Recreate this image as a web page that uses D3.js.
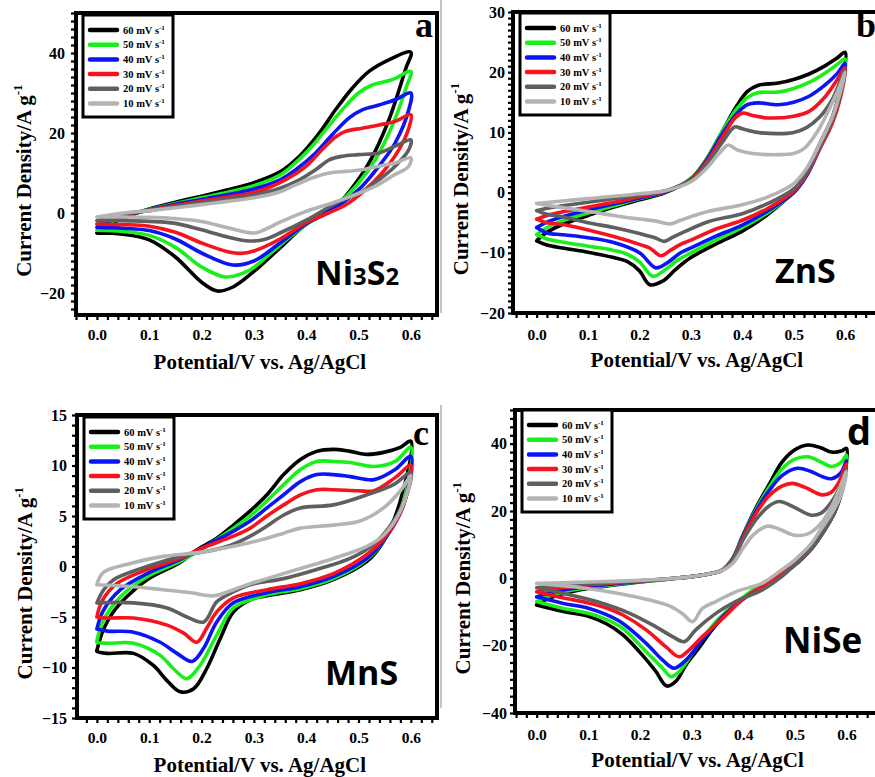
<!DOCTYPE html>
<html>
<head>
<meta charset="utf-8">
<script src="https://cdn.jsdelivr.net/npm/d3@7"></script>
<style>
  body { margin: 0; background: #fff; }
  svg { display: block; }
  .tick text { font-family: "Liberation Serif", "Times New Roman", serif; font-weight: bold; }
</style>
</head>
<body>
<div id="chart"></div>
<script>
// scan rates, top to bottom in the legends
const scanRates = ['60', '50', '40', '30', '20', '10'];
const rateColors = ['#000000', '#19f019', '#0a14f5', '#f5141e', '#5f5f5f', '#b4b4b4'];

const xTicks = [0, 0.1, 0.2, 0.3, 0.4, 0.5, 0.6];
const yTicksA = [-20, 0, 20, 40];
const yTicksB = [-20, -10, 0, 10, 20, 30];
const yTicksC = [-15, -10, -5, 0, 5, 10, 15];
const yTicksD = [-40, -20, 0, 20, 40];

// [potential V, current A/g]; anodic = forward scan, cathodic = reverse scan (both listed low to high potential)
const ni3s2Anodic = [
    [[0,-5],[0.02,-3.2],[0.05,-1.3],[0.1,1],[0.15,2.7],[0.2,4.2],[0.25,5.8],[0.3,7.6],[0.35,10.3],[0.387,14.2],[0.425,20],[0.456,25.8],[0.488,31.2],[0.52,35.4],[0.558,38.3],[0.6,40.2]],
    [[0,-4.3],[0.02,-2.7],[0.05,-1],[0.1,0.9],[0.15,2.4],[0.2,3.8],[0.25,5.2],[0.3,6.8],[0.35,9.5],[0.368,11.2],[0.405,15.8],[0.437,20.8],[0.469,25.8],[0.5,30],[0.526,32],[0.564,33.3],[0.6,35.4]],
    [[0,-3.6],[0.02,-2.2],[0.05,-0.8],[0.1,0.8],[0.15,2.2],[0.2,3.4],[0.25,4.6],[0.3,6],[0.35,8.3],[0.38,10.8],[0.418,15],[0.45,19.6],[0.482,23.8],[0.507,25.8],[0.539,27],[0.57,28.3],[0.6,30]],
    [[0,-2.8],[0.02,-1.7],[0.05,-0.5],[0.1,0.7],[0.15,1.9],[0.2,3],[0.25,4],[0.3,5.1],[0.36,8.3],[0.4,11.7],[0.43,15.8],[0.456,19],[0.475,20.4],[0.507,21.2],[0.539,22],[0.57,22.9],[0.6,24.6]],
    [[0,-1.9],[0.02,-1.1],[0.05,-0.2],[0.1,0.6],[0.15,1.6],[0.2,2.6],[0.25,3.5],[0.3,4.5],[0.35,6.2],[0.387,8.3],[0.418,10.8],[0.444,13.3],[0.469,14.2],[0.5,14.6],[0.539,15],[0.57,16.7],[0.6,18.3]],
    [[0,-1],[0.05,0],[0.1,0.6],[0.15,1.3],[0.2,2.1],[0.25,2.9],[0.3,3.8],[0.35,5.3],[0.374,6.7],[0.412,8.8],[0.444,10],[0.475,10.4],[0.507,10.8],[0.539,11.7],[0.57,12.5],[0.6,13.8]]
];
const ni3s2Cathodic = [
    [[0,-5],[0.05,-5.3],[0.1,-6.7],[0.15,-11],[0.2,-17.3],[0.23,-19.5],[0.26,-18.5],[0.3,-14.6],[0.35,-8.7],[0.4,-2.8],[0.45,0.8],[0.485,5.8],[0.52,12.5],[0.558,23.3],[0.59,36],[0.6,40.2]],
    [[0,-4.3],[0.05,-4.6],[0.1,-5.6],[0.15,-8.6],[0.2,-13.5],[0.245,-16],[0.28,-15],[0.3,-13.6],[0.35,-8],[0.4,-2.9],[0.463,2.5],[0.5,7.5],[0.532,13.3],[0.564,21.7],[0.592,31.7],[0.6,35.4]],
    [[0,-3.6],[0.05,-3.8],[0.1,-4.4],[0.15,-6.5],[0.2,-10],[0.26,-13],[0.3,-12],[0.35,-7.5],[0.4,-2.7],[0.469,2.5],[0.507,6.7],[0.539,11.7],[0.57,17.5],[0.596,25.8],[0.6,30]],
    [[0,-2.8],[0.05,-2.9],[0.1,-3.3],[0.15,-4.8],[0.2,-7.5],[0.25,-9.7],[0.275,-10.1],[0.3,-9.5],[0.35,-6.5],[0.4,-2.4],[0.475,2],[0.513,5.8],[0.545,10],[0.577,15.8],[0.596,21.2],[0.6,24.6]],
    [[0,-1.9],[0.05,-1.9],[0.1,-2.1],[0.15,-2.6],[0.2,-4.2],[0.25,-6],[0.29,-7],[0.32,-6.6],[0.35,-5],[0.4,-1.8],[0.463,2.9],[0.507,5.4],[0.539,8.3],[0.57,11.7],[0.596,15.8],[0.6,18.3]],
    [[0,-1],[0.05,-1],[0.1,-1.1],[0.15,-1.4],[0.2,-2.1],[0.25,-3.7],[0.3,-5],[0.32,-4.2],[0.35,-2.3],[0.4,0.4],[0.45,2.5],[0.494,4.6],[0.532,6.7],[0.564,9.2],[0.596,11.7],[0.6,13.8]]
];

const znsAnodic = [
    [[0,-8],[0.02,-6.6],[0.05,-5.3],[0.1,-3.8],[0.15,-2.4],[0.2,-1.2],[0.25,0],[0.3,2.3],[0.33,5.5],[0.36,10],[0.39,14.5],[0.41,16.8],[0.43,17.8],[0.47,18.2],[0.5,18.8],[0.53,19.7],[0.56,21],[0.585,22.4],[0.6,23.3]],
    [[0,-7],[0.02,-5.8],[0.05,-4.7],[0.1,-3.4],[0.15,-2.2],[0.2,-1],[0.25,0.1],[0.3,2.3],[0.33,5.5],[0.36,10],[0.39,14],[0.41,15.8],[0.43,16.6],[0.47,16.7],[0.5,17.3],[0.53,18.3],[0.56,19.8],[0.585,21.3],[0.6,22.2]],
    [[0,-5.8],[0.02,-4.9],[0.05,-4],[0.1,-2.9],[0.15,-1.9],[0.2,-0.9],[0.25,0.1],[0.3,2.2],[0.33,5.3],[0.36,9.6],[0.39,13.2],[0.41,14.6],[0.43,14.9],[0.47,14.6],[0.5,15],[0.53,16],[0.56,17.8],[0.585,19.8],[0.6,21.5]],
    [[0,-4.4],[0.02,-3.8],[0.05,-3.2],[0.1,-2.4],[0.15,-1.6],[0.2,-0.7],[0.25,0.2],[0.3,2.1],[0.33,5],[0.36,9],[0.385,12.3],[0.4,13.2],[0.42,12.8],[0.45,12.4],[0.5,12.7],[0.53,13.5],[0.56,15.8],[0.585,18.8],[0.6,20.7]],
    [[0,-3],[0.02,-2.6],[0.05,-2.2],[0.1,-1.6],[0.15,-1],[0.2,-0.4],[0.25,0.3],[0.3,2],[0.33,4.6],[0.36,8.2],[0.385,10.9],[0.4,10.6],[0.43,10],[0.47,9.8],[0.5,10],[0.525,10.8],[0.55,12.5],[0.575,15.5],[0.6,20.3]],
    [[0,-1.8],[0.05,-1.4],[0.1,-1],[0.15,-0.6],[0.2,-0.2],[0.25,0.3],[0.3,1.8],[0.33,4],[0.355,6.5],[0.373,7.9],[0.39,7.1],[0.42,6.5],[0.47,6.3],[0.5,6.5],[0.52,7.3],[0.545,10],[0.57,14],[0.59,17.8],[0.6,20]]
];
const znsCathodic = [
    [[0,-8],[0.02,-8.7],[0.05,-9.2],[0.1,-9.9],[0.15,-10.8],[0.175,-11.4],[0.2,-13],[0.22,-15.3],[0.245,-14.7],[0.27,-12.8],[0.3,-10.8],[0.35,-8.5],[0.4,-6.4],[0.45,-3.6],[0.5,0.2],[0.525,3.5],[0.55,8],[0.575,12.5],[0.59,17],[0.6,23.3]],
    [[0,-7],[0.02,-7.7],[0.05,-8.2],[0.1,-8.9],[0.15,-9.6],[0.175,-10.2],[0.2,-11.5],[0.226,-13.9],[0.25,-12.8],[0.275,-11.2],[0.3,-10],[0.35,-7.8],[0.4,-5.8],[0.45,-3.3],[0.5,0],[0.525,3],[0.55,7.5],[0.575,12],[0.59,16.5],[0.6,22.2]],
    [[0,-5.8],[0.02,-6.7],[0.05,-7],[0.1,-7.5],[0.15,-8.3],[0.2,-10],[0.232,-12.5],[0.255,-11.6],[0.28,-10],[0.3,-9.2],[0.35,-7.2],[0.4,-5.4],[0.45,-3],[0.5,0],[0.525,2.8],[0.55,7.2],[0.575,11.8],[0.59,16],[0.6,21.5]],
    [[0,-4.4],[0.02,-5],[0.05,-5.3],[0.1,-6.2],[0.15,-7.3],[0.2,-8.6],[0.22,-9.2],[0.242,-10.5],[0.26,-9.6],[0.28,-8.6],[0.3,-7.9],[0.35,-6],[0.4,-4.6],[0.45,-2.6],[0.5,0.2],[0.525,3],[0.55,7.2],[0.575,11.5],[0.59,15.5],[0.6,20.7]],
    [[0,-3],[0.02,-3.6],[0.05,-4],[0.1,-5],[0.15,-5.8],[0.2,-6.8],[0.23,-7.5],[0.248,-8.1],[0.265,-7.4],[0.29,-6.4],[0.335,-4.8],[0.4,-3.5],[0.45,-1.8],[0.5,0.6],[0.525,3.3],[0.55,7.5],[0.575,12],[0.59,16],[0.6,20.3]],
    [[0,-1.8],[0.02,-2.1],[0.05,-2.5],[0.1,-3.1],[0.15,-3.8],[0.2,-4.4],[0.23,-4.7],[0.26,-5.2],[0.28,-4.6],[0.3,-4],[0.335,-3.1],[0.4,-2],[0.45,-0.7],[0.5,1.5],[0.525,4],[0.55,8],[0.575,12.5],[0.59,16.5],[0.6,20]]
];

const mnsAnodic = [
    [[0,-8.3],[0.012,-6.3],[0.03,-4.6],[0.057,-3],[0.096,-1.3],[0.159,0.4],[0.19,1.6],[0.229,2.8],[0.261,4.1],[0.293,5.5],[0.325,7.1],[0.357,9.1],[0.389,10.6],[0.42,11.4],[0.452,11.6],[0.484,11.4],[0.516,11.1],[0.548,11.3],[0.58,11.8],[0.6,12.4]],
    [[0,-7.4],[0.01,-5.6],[0.03,-3.9],[0.055,-2.5],[0.096,-1],[0.159,0.5],[0.2,1.7],[0.261,3.8],[0.293,5],[0.325,6.5],[0.357,8.1],[0.389,9.6],[0.42,10.4],[0.452,10.4],[0.484,10.3],[0.53,9.9],[0.57,10.4],[0.6,11.8]],
    [[0,-6.2],[0.012,-4.4],[0.045,-2.3],[0.096,-0.7],[0.159,0.7],[0.2,1.8],[0.261,3.5],[0.293,4.5],[0.325,5.8],[0.357,7.1],[0.389,8.4],[0.42,9.1],[0.452,9.1],[0.484,8.9],[0.53,8.6],[0.57,9.6],[0.6,10.9]],
    [[0,-5],[0.01,-3.4],[0.038,-1.7],[0.096,-0.3],[0.159,0.8],[0.2,1.8],[0.261,3],[0.293,3.8],[0.325,5],[0.357,6.1],[0.389,7.1],[0.42,7.6],[0.452,7.6],[0.5,7.5],[0.53,7.5],[0.57,8.8],[0.6,10]],
    [[0,-3.6],[0.013,-2.3],[0.032,-1.3],[0.096,0],[0.159,1],[0.229,1.7],[0.261,2.2],[0.293,3],[0.325,4],[0.357,5.1],[0.389,5.8],[0.452,6.1],[0.516,7.1],[0.567,8.1],[0.6,9.3]],
    [[0,-1.8],[0.012,-0.6],[0.064,0.3],[0.127,1],[0.197,1.4],[0.261,2],[0.325,2.8],[0.357,3.3],[0.389,3.8],[0.452,4.1],[0.503,4.5],[0.548,5.8],[0.58,7.5],[0.6,9]]
];
const mnsCathodic = [
    [[0,-8.4],[0.02,-8.6],[0.07,-8.6],[0.108,-9.8],[0.134,-11.3],[0.159,-12.4],[0.185,-12.1],[0.21,-10.1],[0.236,-7.1],[0.261,-4.5],[0.293,-3.3],[0.325,-2.9],[0.389,-2.3],[0.452,-1.3],[0.516,0.5],[0.548,2.5],[0.58,6.5],[0.6,12.4]],
    [[0,-7.5],[0.02,-7.6],[0.07,-7.6],[0.121,-8.8],[0.146,-10.1],[0.172,-11.1],[0.197,-9.8],[0.229,-6.8],[0.261,-4.1],[0.325,-2.8],[0.389,-2.2],[0.452,-1.2],[0.516,0.7],[0.554,3],[0.586,6.5],[0.6,11.8]],
    [[0,-6.2],[0.02,-6.4],[0.07,-6.5],[0.121,-7.5],[0.153,-8.6],[0.182,-9.4],[0.204,-8.1],[0.229,-5.5],[0.261,-3.6],[0.325,-2.6],[0.389,-2],[0.452,-1],[0.516,0.8],[0.554,3],[0.586,6.1],[0.6,10.9]],
    [[0,-5],[0.02,-5.1],[0.07,-5.1],[0.134,-5.8],[0.166,-6.6],[0.191,-7.5],[0.21,-6.1],[0.229,-4.5],[0.261,-3.1],[0.325,-2.3],[0.389,-1.7],[0.452,-0.7],[0.516,1.2],[0.554,3.1],[0.586,6.1],[0.6,10]],
    [[0,-3.6],[0.07,-3.6],[0.134,-4.1],[0.172,-5],[0.204,-5.5],[0.229,-3.5],[0.261,-2.5],[0.293,-1.8],[0.357,-1.2],[0.42,-0.3],[0.484,0.8],[0.529,2.2],[0.567,4.5],[0.592,7.1],[0.6,9.3]],
    [[0,-1.8],[0.07,-2],[0.127,-2.3],[0.18,-2.6],[0.223,-2.9],[0.261,-2.3],[0.293,-1.7],[0.325,-1.2],[0.389,-0.2],[0.452,0.8],[0.516,2],[0.548,3.1],[0.58,5.5],[0.6,9]]
];

const niseAnodic = [
    [[0,-7.9],[0.02,-6.2],[0.05,-4.6],[0.1,-3],[0.15,-2],[0.2,-1.1],[0.25,-0.3],[0.3,0.5],[0.34,1.5],[0.36,2.5],[0.38,6],[0.4,13],[0.425,21],[0.45,27.8],[0.475,34.5],[0.5,38.2],[0.525,39.6],[0.55,38.8],[0.571,37.5],[0.59,37.8],[0.6,38.6]],
    [[0,-6.9],[0.02,-5.5],[0.05,-4.1],[0.1,-2.8],[0.15,-1.8],[0.2,-1],[0.25,-0.3],[0.3,0.5],[0.34,1.5],[0.36,2.5],[0.38,6],[0.4,12.8],[0.425,20.5],[0.45,27],[0.475,32.5],[0.5,35.4],[0.525,36.1],[0.55,34.6],[0.571,33.2],[0.59,34.5],[0.6,36.6]],
    [[0,-5.5],[0.02,-4.5],[0.05,-3.5],[0.1,-2.4],[0.15,-1.6],[0.2,-0.9],[0.25,-0.2],[0.3,0.5],[0.34,1.5],[0.36,2.5],[0.38,5.9],[0.4,12.6],[0.425,20],[0.45,26],[0.475,30.5],[0.505,32.7],[0.53,31.8],[0.555,30.1],[0.571,29.6],[0.59,31.5],[0.6,35]],
    [[0,-4],[0.02,-3.4],[0.05,-2.8],[0.1,-2],[0.15,-1.4],[0.2,-0.8],[0.25,-0.2],[0.3,0.5],[0.34,1.5],[0.36,2.5],[0.38,5.8],[0.4,12.2],[0.425,19.3],[0.45,24.5],[0.475,27.4],[0.495,28.2],[0.52,27],[0.552,24.8],[0.57,25.5],[0.585,28.5],[0.6,34]],
    [[0,-2.8],[0.05,-2.1],[0.1,-1.6],[0.15,-1.2],[0.2,-0.7],[0.25,-0.2],[0.3,0.5],[0.34,1.5],[0.36,2.5],[0.38,5.6],[0.4,11.5],[0.425,17.5],[0.45,21.5],[0.47,22.8],[0.5,21],[0.53,18.8],[0.55,19.3],[0.57,22.5],[0.59,28],[0.6,32.5]],
    [[0,-1.5],[0.05,-1.3],[0.1,-1.1],[0.15,-0.9],[0.2,-0.6],[0.25,-0.2],[0.3,0.5],[0.34,1.5],[0.36,2.4],[0.38,4.5],[0.4,9],[0.42,13],[0.447,15.5],[0.47,14.6],[0.5,12.8],[0.525,13.2],[0.55,16.2],[0.575,22.5],[0.6,31.7]]
];
const niseCathodic = [
    [[0,-7.9],[0.05,-9.8],[0.1,-11.3],[0.135,-13.5],[0.167,-16.8],[0.2,-22],[0.23,-27.5],[0.252,-32],[0.27,-30.5],[0.29,-25.5],[0.31,-21.5],[0.347,-13.9],[0.385,-7.9],[0.42,-3.5],[0.45,-0.5],[0.5,4],[0.533,9],[0.558,14.5],[0.578,20],[0.59,26],[0.6,38.6]],
    [[0,-6.9],[0.05,-8.9],[0.1,-10.4],[0.135,-12.2],[0.167,-14.9],[0.212,-21.8],[0.244,-26.7],[0.26,-29.2],[0.276,-27.7],[0.308,-20.8],[0.347,-12.9],[0.385,-7.4],[0.42,-3.3],[0.45,-0.4],[0.5,4],[0.533,9],[0.558,14.5],[0.578,20],[0.59,26],[0.6,36.6]],
    [[0,-5.5],[0.05,-7.4],[0.1,-8.9],[0.135,-10.8],[0.167,-13.4],[0.212,-19.3],[0.244,-24.3],[0.266,-26.7],[0.289,-24.3],[0.321,-18.3],[0.36,-11.4],[0.398,-6.4],[0.43,-3],[0.46,0],[0.5,4],[0.533,9],[0.558,14.5],[0.578,20],[0.59,26],[0.6,35]],
    [[0,-4],[0.05,-5.8],[0.1,-7.3],[0.135,-8.8],[0.167,-10.9],[0.212,-15.3],[0.25,-20.3],[0.276,-23.3],[0.295,-21.3],[0.321,-17.3],[0.36,-11.9],[0.398,-6.4],[0.43,-3],[0.46,0],[0.5,4],[0.533,9],[0.558,14.5],[0.578,20],[0.59,25.5],[0.6,34]],
    [[0,-2.8],[0.05,-4.4],[0.116,-6.9],[0.18,-10.4],[0.231,-14.4],[0.263,-17.3],[0.286,-18.8],[0.308,-15.3],[0.347,-10.4],[0.385,-6.9],[0.436,-3.5],[0.47,0],[0.5,4],[0.533,9],[0.558,14.5],[0.578,20],[0.59,25],[0.6,32.5]],
    [[0,-1.5],[0.083,-2.7],[0.148,-4.2],[0.212,-6.2],[0.257,-8.2],[0.283,-10.6],[0.302,-12.9],[0.321,-8.9],[0.347,-6.9],[0.385,-4],[0.436,-1.5],[0.47,2],[0.5,5.5],[0.53,10],[0.55,14.5],[0.57,19],[0.59,25],[0.6,31.7]]
];

const panels = [
    { letter: 'a', name: ['Ni', '3', 'S', '2'], anodic: ni3s2Anodic, cathodic: ni3s2Cathodic, yTicks: yTicksA, yMinor: 2,
      box: { l: 76, r: 437, t: 13, b: 315 }, xDom: [-0.04, 0.65], yDom: [-25.5, 50],
      yPad: 11, xPad: 14, legendY: 15, nameX: 315, nameY: 285, nameSize: 34, letterX: 415, letterY: 37, serifLetter: true },
    { letter: 'b', name: ['ZnS'], anodic: znsAnodic, cathodic: znsCathodic, yTicks: yTicksB, yMinor: 1,
      box: { l: 513, r: 878, t: 12, b: 313 }, xDom: [-0.046, 0.664], yDom: [-20, 30],
      yPad: 8, xPad: 16, legendY: 13, nameX: 775, nameY: 283, nameSize: 34, letterX: 856, letterY: 37, serifLetter: true },
    { letter: 'c', name: ['MnS'], anodic: mnsAnodic, cathodic: mnsCathodic, yTicks: yTicksC, yMinor: 1,
      box: { l: 77, r: 437, t: 415, b: 718 }, xDom: [-0.038, 0.65], yDom: [-15, 15],
      yPad: 10, xPad: 14, legendY: 417, nameX: 325, nameY: 685, nameSize: 34, letterX: 413, letterY: 445, serifLetter: true },
    { letter: 'd', name: ['NiSe'], anodic: niseAnodic, cathodic: niseCathodic, yTicks: yTicksD, yMinor: 2.5,
      box: { l: 515, r: 878, t: 410, b: 713 }, xDom: [-0.042, 0.661], yDom: [-40, 50],
      yPad: 8, xPad: 16, legendY: 410, nameX: 783, nameY: 653, nameSize: 35, letterX: 847, letterY: 445, serifLetter: false }
];

const serif = '"Liberation Serif", "Times New Roman", serif';
const sans = '"Open Sans", "Noto Sans", sans-serif';

function loopPoints(fwd, rev) {
    const pts = fwd.concat(rev.slice().reverse());
    pts.push(fwd[0]);
    return pts.filter((p, i) => i === 0 || p[0] !== pts[i - 1][0] || p[1] !== pts[i - 1][1]);
}

function drawPanel(svg, p) {
    const x = d3.scaleLinear().domain(p.xDom).range([p.box.l, p.box.r]);
    const y = d3.scaleLinear().domain(p.yDom).range([p.box.b, p.box.t]);
    const g = svg.append('g').attr('class', 'panel-' + p.letter);

    const clipId = 'clip-' + p.letter;
    g.append('clipPath').attr('id', clipId)
        .append('rect')
        .attr('x', p.box.l).attr('y', p.box.t)
        .attr('width', p.box.r - p.box.l).attr('height', p.box.b - p.box.t);

    // curves: fastest scan first, slowest on top
    const line = d3.line()
        .x(d => x(d[0]))
        .y(d => y(d[1]))
        .curve(d3.curveCatmullRom.alpha(0.5));
    const curves = g.append('g').attr('clip-path', 'url(#' + clipId + ')');
    p.anodic.forEach((fwd, i) => {
        curves.append('path')
            .attr('d', line(loopPoints(fwd, p.cathodic[i])))
            .attr('fill', 'none')
            .attr('stroke', rateColors[i])
            .attr('stroke-width', 3.6)
            .attr('stroke-linejoin', 'round')
            .attr('stroke-linecap', 'round');
    });

    // minor ticks, all along both axes
    const xMinor = d3.range(Math.ceil(p.xDom[0] / 0.02) * 0.02, Math.min(p.xDom[1], 0.645), 0.02);
    const yMinorVals = d3.range(Math.ceil(p.yDom[0] / p.yMinor) * p.yMinor, p.yDom[1] + 0.001, p.yMinor);
    g.append('g')
        .attr('transform', 'translate(0,' + p.box.b + ')')
        .call(d3.axisBottom(x).tickValues(xMinor).tickSize(5).tickFormat(''))
        .call(a => a.select('.domain').remove())
        .selectAll('line').attr('stroke-width', 2.2);
    g.append('g')
        .attr('transform', 'translate(' + p.box.l + ',0)')
        .call(d3.axisLeft(y).tickValues(yMinorVals).tickSize(5).tickFormat(''))
        .call(a => a.select('.domain').remove())
        .selectAll('line').attr('stroke-width', 2.2);

    // tick labels
    const xAxis = g.append('g')
        .attr('transform', 'translate(0,' + p.box.b + ')')
        .call(d3.axisBottom(x).tickValues(xTicks).tickSize(0).tickPadding(p.xPad).tickFormat(d3.format('.1f')));
    xAxis.select('.domain').remove();
    xAxis.selectAll('text').attr('font-size', 15.5).attr('fill', '#000');
    const yAxis = g.append('g')
        .attr('transform', 'translate(' + p.box.l + ',0)')
        .call(d3.axisLeft(y).tickValues(p.yTicks).tickSize(0).tickPadding(p.yPad).tickFormat(d3.format('d')));
    yAxis.select('.domain').remove();
    yAxis.selectAll('text').attr('font-size', 16).attr('fill', '#000');

    // frame
    g.append('rect')
        .attr('x', p.box.l).attr('y', p.box.t)
        .attr('width', p.box.r - p.box.l).attr('height', p.box.b - p.box.t)
        .attr('fill', 'none').attr('stroke', '#000').attr('stroke-width', 4);

    // axis titles
    const xMid = (x(0) + x(0.6)) / 2;
    g.append('text')
        .attr('x', xMid + 6).attr('y', p.box.b + 54)
        .attr('text-anchor', 'middle')
        .attr('font-family', serif).attr('font-weight', 'bold').attr('font-size', 21)
        .text('Potential/V vs. Ag/AgCl');
    const yMid = p.box.t + (p.box.b - p.box.t) * 0.555;
    const yt = g.append('text')
        .attr('transform', 'translate(' + (p.box.l - 45) + ',' + yMid + ') rotate(-90)')
        .attr('text-anchor', 'middle')
        .attr('font-family', serif).attr('font-weight', 'bold').attr('font-size', 21);
    yt.append('tspan').text('Current Density/A g');
    yt.append('tspan').attr('font-size', 13).attr('dy', -9).text('-1');

    // legend
    const lg = g.append('g').attr('transform', 'translate(' + (p.box.l + 7) + ',' + p.legendY + ')');
    lg.append('rect')
        .attr('x', 0).attr('y', 0).attr('width', 90).attr('height', 102)
        .attr('fill', '#fff').attr('stroke', '#000').attr('stroke-width', 3);
    scanRates.forEach((r, i) => {
        const ly = 15 + i * 14.7;
        lg.append('line')
            .attr('x1', 7).attr('x2', 34).attr('y1', ly).attr('y2', ly)
            .attr('stroke', rateColors[i]).attr('stroke-width', 4.5).attr('stroke-linecap', 'round');
        const t = lg.append('text')
            .attr('x', 40).attr('y', ly + 3.5)
            .attr('font-family', serif).attr('font-weight', 'bold').attr('font-size', 10.5);
        t.append('tspan').text(r + ' mV s');
        t.append('tspan').attr('font-size', 7).attr('dy', -4).text('-1');
    });

    // panel letter
    g.append('text')
        .attr('x', p.letterX).attr('y', p.letterY)
        .attr('font-family', p.serifLetter ? serif : sans)
        .attr('font-weight', 'bold')
        .attr('font-size', p.serifLetter ? 36 : 38)
        .text(p.letter);

    // material name
    const nt = g.append('text')
        .attr('x', p.nameX).attr('y', p.nameY)
        .attr('font-family', sans).attr('font-weight', 'bold').attr('font-size', p.nameSize);
    p.name.forEach((s, i) => {
        const ts = nt.append('tspan').text(s);
        if (i % 2 === 1) ts.attr('font-size', p.nameSize * 0.7);
    });
}

const svg = d3.select('#chart')
    .append('svg')
    .attr('width', 875)
    .attr('height', 777);
svg.append('rect').attr('width', 875).attr('height', 777).attr('fill', '#fff');

// thin separators at the panel seams
svg.append('line').attr('x1', 441).attr('x2', 441).attr('y1', 0).attr('y2', 313).attr('stroke', '#888').attr('stroke-width', 1);
svg.append('line').attr('x1', 441).attr('x2', 441).attr('y1', 405).attr('y2', 708).attr('stroke', '#888').attr('stroke-width', 1);

panels.forEach(p => drawPanel(svg, p));
</script>
</body>
</html>
